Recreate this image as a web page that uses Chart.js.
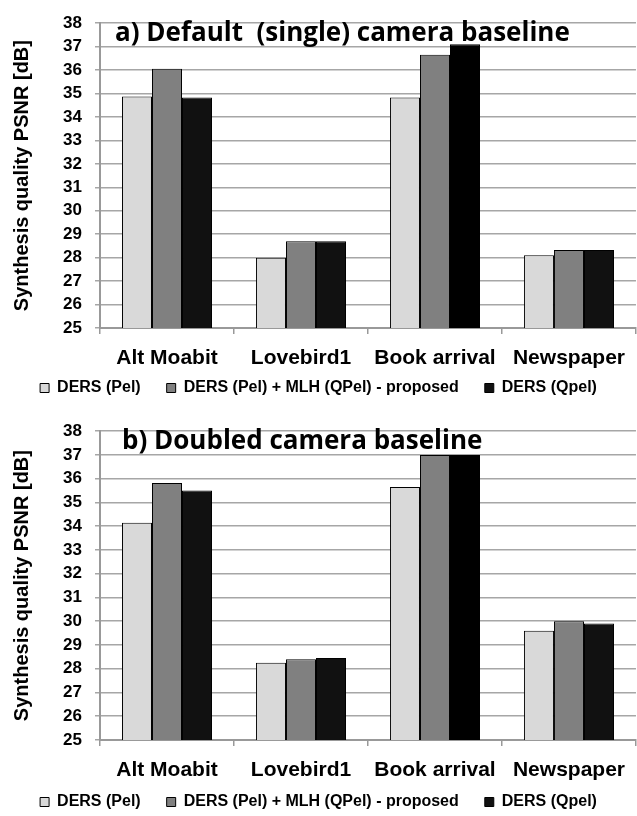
<!DOCTYPE html>
<html>
<head>
<meta charset="utf-8">
<script src="https://cdn.jsdelivr.net/npm/chart.js@4"></script>
<style>
  body { margin: 0; background: #fff; }
  .box { position: relative; width: 637px; height: 408px; }
</style>
</head>
<body>
<div class="box"><canvas id="chartA"></canvas></div>
<div class="box"><canvas id="chartB"></canvas></div>
<script>
const categories = ["Alt Moabit", "Lovebird1", "Book arrival", "Newspaper"];
const seriesNames = ["DERS (Pel)", "DERS (Pel) + MLH (QPel) - proposed", "DERS (Qpel)"];

// a) default (single) camera baseline
const pelA = [34.87, 28.0, 34.83, 28.1];
const mlhA = [36.06, 28.7, 36.65, 28.33];
const qpelA = [34.83, 28.7, 37.1, 28.33];

// b) doubled camera baseline
const pelB = [34.15, 28.25, 35.65, 29.6];
const mlhB = [35.82, 28.4, 37.0, 30.0];
const qpelB = [35.5, 28.45, 37.0, 29.9];

const yTicks = [25, 26, 27, 28, 29, 30, 31, 32, 33, 34, 35, 36, 37, 38];

const font = "'Liberation Sans', Arial, sans-serif";
const fills = ["#d9d9d9", "#808080", ["#111111", "#111111", "#000000", "#111111"]];

// title written inside the plot, top left
const panelTitle = {
    id: "panelTitle",
    afterDraw(chart, args, opts) {
        const ctx = chart.ctx;
        const area = chart.chartArea;
        ctx.save();
        ctx.font = "bold 26px 'Open Sans', sans-serif";
        ctx.fillStyle = "#000";
        ctx.textBaseline = "alphabetic";
        ctx.fillText(opts.text, area.left + opts.dx, area.top + 18);
        ctx.restore();
    }
};

// legend: small box for layout, then moved up close to the axis labels
const legendFit = {
    id: "legendFit",
    beforeInit(chart, args, opts) {
        const legend = chart.legend;
        const fit = legend.fit;
        legend.fit = function () {
            fit.call(this);
            this.height = opts.height;
        };
    },
    afterLayout(chart, args, opts) {
        const legend = chart.legend;
        legend.top = chart.chartArea.bottom + opts.offset;
        legend.bottom = legend.top + 100;
    }
};

function makeChart(id, title, data, lay) {
    const ctx = document.getElementById(id).getContext("2d");
    return new Chart(ctx, {
        type: "bar",
        data: {
            labels: categories,
            datasets: data.map((values, i) => ({
                label: seriesNames[i],
                data: values,
                backgroundColor: fills[i],
                borderColor: "#000",
                borderWidth: 1,
                borderSkipped: "bottom",
                barPercentage: 1,
                categoryPercentage: 0.672
            }))
        },
        options: {
            responsive: true,
            maintainAspectRatio: false,
            animation: false,
            layout: { padding: { top: lay.top, right: 0, bottom: 0, left: 0 } },
            scales: {
                x: {
                    afterFit: (scale) => { scale.height = 44; },
                    grid: { drawOnChartArea: false, offset: true, color: "#999", lineWidth: 1.5, tickLength: 6 },
                    border: { color: "#999", width: 2 },
                    ticks: { color: "#000", autoSkip: false, maxRotation: 0, font: { family: font, weight: "bold", size: 21 }, padding: 12 }
                },
                y: {
                    min: 25,
                    max: 38,
                    afterBuildTicks: (scale) => { scale.ticks = yTicks.map(v => ({ value: v })); },
                    afterFit: (scale) => { scale.width = 100; },
                    grid: { color: "#a6a6a6", lineWidth: 1.5, tickLength: 5 },
                    border: { color: "#999", width: 2 },
                    ticks: { color: "#000", autoSkip: false, font: { family: font, weight: "bold", size: 17 }, padding: 13 },
                    title: {
                        display: true,
                        text: "Synthesis quality PSNR [dB]",
                        color: "#000",
                        font: { family: font, weight: "bold", size: 20 },
                        padding: { top: 10, bottom: 0 }
                    }
                }
            },
            plugins: {
                legend: {
                    position: "bottom",
                    labels: {
                        color: "#000",
                        boxWidth: 9,
                        boxHeight: 9,
                        padding: 26,
                        font: { family: font, weight: "bold", size: 16 }
                    }
                },
                tooltip: { enabled: false },
                panelTitle: { text: title, dx: lay.titleX },
                legendFit: { height: lay.legendHeight, offset: lay.legendOffset }
            }
        },
        plugins: [panelTitle, legendFit]
    });
}

makeChart("chartA", "a) Default  (single) camera baseline", [pelA, mlhA, qpelA],
    { top: 14, legendHeight: 36, legendOffset: 26, titleX: 15 });
makeChart("chartB", "b) Doubled camera baseline", [pelB, mlhB, qpelB],
    { top: 21, legendHeight: 32, legendOffset: 28, titleX: 22 });
</script>
</body>
</html>
